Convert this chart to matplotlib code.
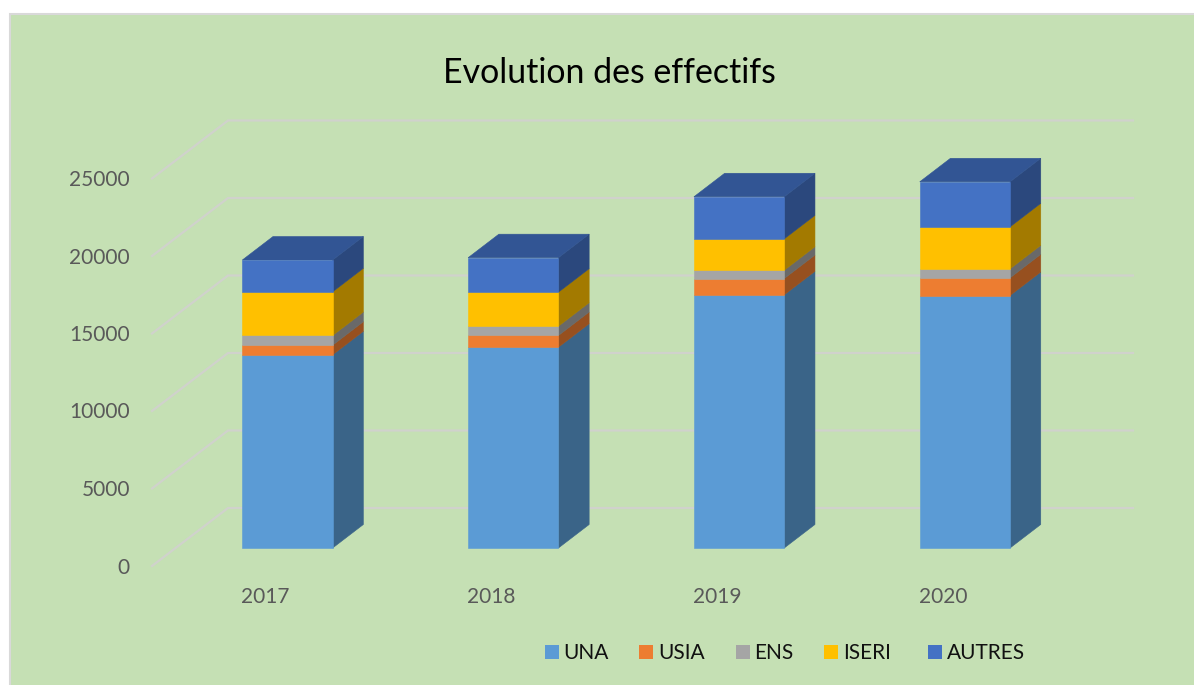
import numpy as np
import matplotlib
matplotlib.use('Agg')
import matplotlib.pyplot as plt
from matplotlib.patches import Rectangle

plt.rcParams['font.family'] = ['Lato', 'DejaVu Sans']

# values
years = ['2017', '2018', '2019', '2020']
una = [12465, 12955, 16335, 16290]
usia = [620, 755, 1050, 1140]
ens = [625, 600, 535, 580]
iseri = [2820, 2195, 2025, 2710]
autres = [2050, 2225, 2715, 2905]
y_ticks = [0, 5000, 10000, 15000, 20000, 25000]

names = ['UNA', 'USIA', 'ENS', 'ISERI', 'AUTRES']
series = [una, usia, ens, iseri, autres]
front_cols = ['#5B9BD5', '#ED7D31', '#A5A5A5', '#FFC000', '#4472C4']
side_cols = ['#3A6488', '#97501F', '#696969', '#A37A00', '#2B487D']
top_col = '#325594'
grid_col = '#D0D2CC'
text_col = '#595959'
bg_col = '#C5E0B4'

W, H = 1194, 685
fig = plt.figure(figsize=(W / 100, H / 100), dpi=100, facecolor='white')
ax = fig.add_axes([0, 0, 1, 1])

# one category = 225.8 px, 1000 units = 15.5 px, origin of bars at (287.5, 548)
px_x = 225.8
px_y = 15.5 / 1000
x0, y0 = 287.5, 548
ax.set_xlim(-x0 / px_x, (W - x0) / px_x)
ax.set_ylim(-(H - y0) / px_y, y0 / px_y)
ax.axis('off')

# chart background
fig.patches.append(Rectangle((10 / W, -0.02), 1.0, 1.02 - 14 / H, transform=fig.transFigure,
                             facecolor=bg_col, edgecolor='#D9D9D9', linewidth=1.5, zorder=-5))

bar_w = 0.4
dx = 30.7 / px_x
dy = 23.5 / px_y
# walls of the fake 3d box
wall_left = (228 - x0) / px_x
wall_right = (1133 - x0) / px_x
floor_left = (152 - x0) / px_x
wall_off = 40 / px_y
floor_off = -18 / px_y

for v in y_ticks:
    ax.plot([floor_left, wall_left, wall_right],
            [v + floor_off, v + wall_off, v + wall_off],
            color=grid_col, lw=1.6, zorder=1, solid_joinstyle='miter')
    ax.text(floor_left - 22 / px_x, v + floor_off + 1.5 / px_y * -1, str(v), ha='right', va='center',
            color=text_col, fontsize=15)

xs = np.arange(len(years))
for i, x in enumerate(xs):
    left = x - bar_w / 2
    right = x + bar_w / 2
    base = 0
    for vals, fc, sc in zip(series, front_cols, side_cols):
        top = base + vals[i]
        ax.fill([right, right + dx, right + dx, right],
                [base, base + dy, top + dy, top], color=sc, lw=0.4, zorder=3)
        ax.fill([left, right, right, left], [base, base, top, top],
                color=fc, lw=0.4, zorder=4)
        base = top
    ax.fill([left, right, right + dx, left + dx], [base, base, base + dy, base + dy],
            color=top_col, lw=0.4, zorder=3)
    ax.text(x - 22 / px_x, -(597 - y0) / px_y, years[i], ha='center', va='center',
            color=text_col, fontsize=15)

fig.text(609.5 / W, 1 - 73 / H, 'Evolution des effectifs', ha='center', va='center',
         color='black', fontsize=24.4)

# legend, spacing is uneven in the original so placed by hand
sq_x = [545, 639, 736, 824, 928]
txt_x = [563, 658, 754, 843, 947]
for name, c, sx, tx in zip(names, front_cols, sq_x, txt_x):
    fig.patches.append(Rectangle((sx / W, 1 - 659 / H), 14 / W, 14 / H,
                                 transform=fig.transFigure, facecolor=c, edgecolor='none'))
    fig.text(tx / W, 1 - 653 / H, name, ha='left', va='center', color='#111111', fontsize=15)

fig.savefig('out.png', dpi=100, facecolor='white')
